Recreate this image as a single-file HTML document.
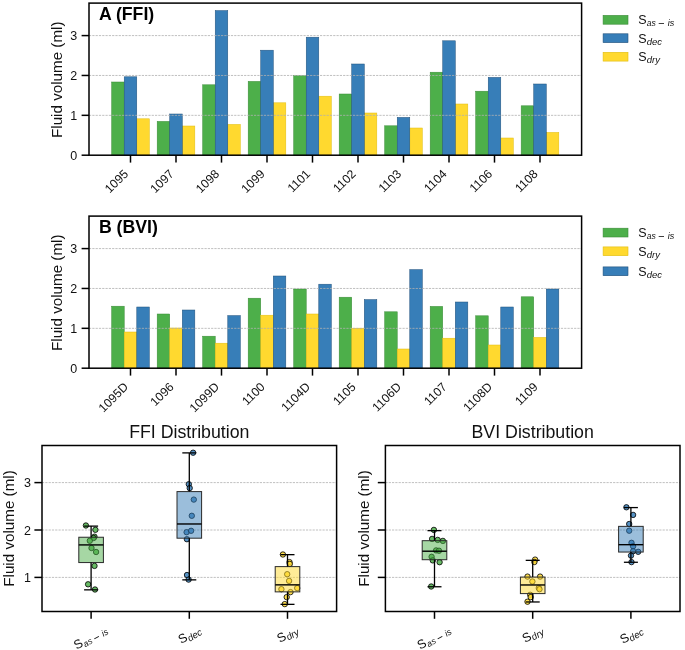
<!DOCTYPE html>
<html><head><meta charset="utf-8"><style>
html,body{margin:0;padding:0;background:#fff;}
body{width:685px;height:650px;overflow:hidden;}
svg{display:block;font-family:"Liberation Sans", sans-serif;will-change:transform;}
</style></head><body>
<svg width="685" height="650" viewBox="0 0 685 650">
<rect width="685" height="650" fill="#fff"/>
<rect x="111.67" y="82.00" width="12.55" height="73.20" fill="#4daf4a" stroke="#3a8a37" stroke-width="0.5"/>
<rect x="157.18" y="121.40" width="12.55" height="33.80" fill="#4daf4a" stroke="#3a8a37" stroke-width="0.5"/>
<rect x="202.68" y="84.80" width="12.55" height="70.40" fill="#4daf4a" stroke="#3a8a37" stroke-width="0.5"/>
<rect x="248.18" y="81.40" width="12.55" height="73.80" fill="#4daf4a" stroke="#3a8a37" stroke-width="0.5"/>
<rect x="293.68" y="75.60" width="12.55" height="79.60" fill="#4daf4a" stroke="#3a8a37" stroke-width="0.5"/>
<rect x="339.18" y="94.00" width="12.55" height="61.20" fill="#4daf4a" stroke="#3a8a37" stroke-width="0.5"/>
<rect x="384.68" y="125.80" width="12.55" height="29.40" fill="#4daf4a" stroke="#3a8a37" stroke-width="0.5"/>
<rect x="430.18" y="72.20" width="12.55" height="83.00" fill="#4daf4a" stroke="#3a8a37" stroke-width="0.5"/>
<rect x="475.68" y="91.20" width="12.55" height="64.00" fill="#4daf4a" stroke="#3a8a37" stroke-width="0.5"/>
<rect x="521.17" y="105.80" width="12.55" height="49.40" fill="#4daf4a" stroke="#3a8a37" stroke-width="0.5"/>
<rect x="136.78" y="118.80" width="12.55" height="36.40" fill="#ffd92f" stroke="#e0bd10" stroke-width="0.5"/>
<rect x="182.28" y="126.00" width="12.55" height="29.20" fill="#ffd92f" stroke="#e0bd10" stroke-width="0.5"/>
<rect x="227.78" y="124.40" width="12.55" height="30.80" fill="#ffd92f" stroke="#e0bd10" stroke-width="0.5"/>
<rect x="273.27" y="102.80" width="12.55" height="52.40" fill="#ffd92f" stroke="#e0bd10" stroke-width="0.5"/>
<rect x="318.77" y="96.20" width="12.55" height="59.00" fill="#ffd92f" stroke="#e0bd10" stroke-width="0.5"/>
<rect x="364.27" y="113.00" width="12.55" height="42.20" fill="#ffd92f" stroke="#e0bd10" stroke-width="0.5"/>
<rect x="409.77" y="128.00" width="12.55" height="27.20" fill="#ffd92f" stroke="#e0bd10" stroke-width="0.5"/>
<rect x="455.27" y="104.00" width="12.55" height="51.20" fill="#ffd92f" stroke="#e0bd10" stroke-width="0.5"/>
<rect x="500.77" y="138.00" width="12.55" height="17.20" fill="#ffd92f" stroke="#e0bd10" stroke-width="0.5"/>
<rect x="546.27" y="132.40" width="12.55" height="22.80" fill="#ffd92f" stroke="#e0bd10" stroke-width="0.5"/>
<rect x="124.22" y="76.80" width="12.55" height="78.40" fill="#377eb8" stroke="#1f4f7a" stroke-width="0.5"/>
<rect x="169.72" y="114.00" width="12.55" height="41.20" fill="#377eb8" stroke="#1f4f7a" stroke-width="0.5"/>
<rect x="215.22" y="10.60" width="12.55" height="144.60" fill="#377eb8" stroke="#1f4f7a" stroke-width="0.5"/>
<rect x="260.73" y="50.20" width="12.55" height="105.00" fill="#377eb8" stroke="#1f4f7a" stroke-width="0.5"/>
<rect x="306.23" y="37.20" width="12.55" height="118.00" fill="#377eb8" stroke="#1f4f7a" stroke-width="0.5"/>
<rect x="351.73" y="64.00" width="12.55" height="91.20" fill="#377eb8" stroke="#1f4f7a" stroke-width="0.5"/>
<rect x="397.23" y="117.40" width="12.55" height="37.80" fill="#377eb8" stroke="#1f4f7a" stroke-width="0.5"/>
<rect x="442.73" y="40.80" width="12.55" height="114.40" fill="#377eb8" stroke="#1f4f7a" stroke-width="0.5"/>
<rect x="488.23" y="77.40" width="12.55" height="77.80" fill="#377eb8" stroke="#1f4f7a" stroke-width="0.5"/>
<rect x="533.73" y="84.00" width="12.55" height="71.20" fill="#377eb8" stroke="#1f4f7a" stroke-width="0.5"/>
<line x1="89" x2="581.6" y1="115.33" y2="115.33" stroke="#b0b0b0" stroke-width="0.8" stroke-dasharray="2.2 1.1"/>
<line x1="89" x2="581.6" y1="75.46" y2="75.46" stroke="#b0b0b0" stroke-width="0.8" stroke-dasharray="2.2 1.1"/>
<line x1="89" x2="581.6" y1="35.59" y2="35.59" stroke="#b0b0b0" stroke-width="0.8" stroke-dasharray="2.2 1.1"/>
<rect x="89" y="3.1" width="492.60" height="152.10" fill="none" stroke="#000" stroke-width="1.5"/>
<line x1="81.6" x2="89" y1="155.20" y2="155.20" stroke="#000" stroke-width="1.5"/>
<text x="77.3" y="159.90" text-anchor="end" font-size="12.5" fill="#111">0</text>
<line x1="81.6" x2="89" y1="115.33" y2="115.33" stroke="#000" stroke-width="1.5"/>
<text x="77.3" y="120.03" text-anchor="end" font-size="12.5" fill="#111">1</text>
<line x1="81.6" x2="89" y1="75.46" y2="75.46" stroke="#000" stroke-width="1.5"/>
<text x="77.3" y="80.16" text-anchor="end" font-size="12.5" fill="#111">2</text>
<line x1="81.6" x2="89" y1="35.59" y2="35.59" stroke="#000" stroke-width="1.5"/>
<text x="77.3" y="40.29" text-anchor="end" font-size="12.5" fill="#111">3</text>
<line x1="130.50" x2="130.50" y1="155.2" y2="162.60" stroke="#000" stroke-width="1.5"/>
<text transform="translate(128.99,174.58) rotate(-45)" text-anchor="end" font-size="12.2" fill="#111">1095</text>
<line x1="176.00" x2="176.00" y1="155.2" y2="162.60" stroke="#000" stroke-width="1.5"/>
<text transform="translate(174.49,174.58) rotate(-45)" text-anchor="end" font-size="12.2" fill="#111">1097</text>
<line x1="221.50" x2="221.50" y1="155.2" y2="162.60" stroke="#000" stroke-width="1.5"/>
<text transform="translate(219.99,174.58) rotate(-45)" text-anchor="end" font-size="12.2" fill="#111">1098</text>
<line x1="267.00" x2="267.00" y1="155.2" y2="162.60" stroke="#000" stroke-width="1.5"/>
<text transform="translate(265.49,174.58) rotate(-45)" text-anchor="end" font-size="12.2" fill="#111">1099</text>
<line x1="312.50" x2="312.50" y1="155.2" y2="162.60" stroke="#000" stroke-width="1.5"/>
<text transform="translate(310.99,174.58) rotate(-45)" text-anchor="end" font-size="12.2" fill="#111">1101</text>
<line x1="358.00" x2="358.00" y1="155.2" y2="162.60" stroke="#000" stroke-width="1.5"/>
<text transform="translate(356.49,174.58) rotate(-45)" text-anchor="end" font-size="12.2" fill="#111">1102</text>
<line x1="403.50" x2="403.50" y1="155.2" y2="162.60" stroke="#000" stroke-width="1.5"/>
<text transform="translate(401.99,174.58) rotate(-45)" text-anchor="end" font-size="12.2" fill="#111">1103</text>
<line x1="449.00" x2="449.00" y1="155.2" y2="162.60" stroke="#000" stroke-width="1.5"/>
<text transform="translate(447.49,174.58) rotate(-45)" text-anchor="end" font-size="12.2" fill="#111">1104</text>
<line x1="494.50" x2="494.50" y1="155.2" y2="162.60" stroke="#000" stroke-width="1.5"/>
<text transform="translate(492.99,174.58) rotate(-45)" text-anchor="end" font-size="12.2" fill="#111">1106</text>
<line x1="540.00" x2="540.00" y1="155.2" y2="162.60" stroke="#000" stroke-width="1.5"/>
<text transform="translate(538.49,174.58) rotate(-45)" text-anchor="end" font-size="12.2" fill="#111">1108</text>
<text transform="translate(61.7,79.75) rotate(-90)" text-anchor="middle" font-size="15.2" fill="#111">Fluid volume (ml)</text>
<text x="98.89999999999999" y="19.6" font-size="17.7" font-weight="bold" fill="#000">A (FFI)</text>
<rect x="603.1" y="15.40" width="24.9" height="8.8" fill="#4daf4a" stroke="#3a8a37" stroke-width="0.6"/>
<g transform="translate(638.2,24.20)"><text x="0" y="0" font-size="12.5" fill="#111">S</text><text x="8.6" y="2.1" font-size="8.6" font-style="italic" fill="#111">as</text><rect x="20.5" y="-1.0" width="5.3" height="0.8" fill="#111"/><text x="29.5" y="2.1" font-size="9.0" font-style="italic" fill="#111">is</text></g>
<rect x="603.1" y="33.80" width="24.9" height="8.8" fill="#377eb8" stroke="#1f4f7a" stroke-width="0.6"/>
<g transform="translate(638.2,42.60)"><text x="0" y="0" font-size="12.5" fill="#111">S</text><text x="8.5" y="2.1" font-size="9.5" font-style="italic" fill="#111">dec</text></g>
<rect x="603.1" y="52.30" width="24.9" height="8.8" fill="#ffd92f" stroke="#e0bd10" stroke-width="0.6"/>
<g transform="translate(638.2,61.10)"><text x="0" y="0" font-size="12.5" fill="#111">S</text><text x="8.5" y="2.1" font-size="9.5" font-style="italic" fill="#111">dry</text></g>
<rect x="111.67" y="306.20" width="12.55" height="62.00" fill="#4daf4a" stroke="#3a8a37" stroke-width="0.5"/>
<rect x="157.18" y="314.00" width="12.55" height="54.20" fill="#4daf4a" stroke="#3a8a37" stroke-width="0.5"/>
<rect x="202.68" y="336.20" width="12.55" height="32.00" fill="#4daf4a" stroke="#3a8a37" stroke-width="0.5"/>
<rect x="248.18" y="298.20" width="12.55" height="70.00" fill="#4daf4a" stroke="#3a8a37" stroke-width="0.5"/>
<rect x="293.68" y="289.00" width="12.55" height="79.20" fill="#4daf4a" stroke="#3a8a37" stroke-width="0.5"/>
<rect x="339.18" y="297.20" width="12.55" height="71.00" fill="#4daf4a" stroke="#3a8a37" stroke-width="0.5"/>
<rect x="384.68" y="311.80" width="12.55" height="56.40" fill="#4daf4a" stroke="#3a8a37" stroke-width="0.5"/>
<rect x="430.18" y="306.40" width="12.55" height="61.80" fill="#4daf4a" stroke="#3a8a37" stroke-width="0.5"/>
<rect x="475.68" y="315.80" width="12.55" height="52.40" fill="#4daf4a" stroke="#3a8a37" stroke-width="0.5"/>
<rect x="521.17" y="296.80" width="12.55" height="71.40" fill="#4daf4a" stroke="#3a8a37" stroke-width="0.5"/>
<rect x="124.22" y="332.00" width="12.55" height="36.20" fill="#ffd92f" stroke="#e0bd10" stroke-width="0.5"/>
<rect x="169.72" y="328.00" width="12.55" height="40.20" fill="#ffd92f" stroke="#e0bd10" stroke-width="0.5"/>
<rect x="215.22" y="343.20" width="12.55" height="25.00" fill="#ffd92f" stroke="#e0bd10" stroke-width="0.5"/>
<rect x="260.73" y="315.20" width="12.55" height="53.00" fill="#ffd92f" stroke="#e0bd10" stroke-width="0.5"/>
<rect x="306.23" y="314.00" width="12.55" height="54.20" fill="#ffd92f" stroke="#e0bd10" stroke-width="0.5"/>
<rect x="351.73" y="328.20" width="12.55" height="40.00" fill="#ffd92f" stroke="#e0bd10" stroke-width="0.5"/>
<rect x="397.23" y="349.00" width="12.55" height="19.20" fill="#ffd92f" stroke="#e0bd10" stroke-width="0.5"/>
<rect x="442.73" y="338.20" width="12.55" height="30.00" fill="#ffd92f" stroke="#e0bd10" stroke-width="0.5"/>
<rect x="488.23" y="345.00" width="12.55" height="23.20" fill="#ffd92f" stroke="#e0bd10" stroke-width="0.5"/>
<rect x="533.73" y="337.40" width="12.55" height="30.80" fill="#ffd92f" stroke="#e0bd10" stroke-width="0.5"/>
<rect x="136.78" y="307.00" width="12.55" height="61.20" fill="#377eb8" stroke="#1f4f7a" stroke-width="0.5"/>
<rect x="182.28" y="310.00" width="12.55" height="58.20" fill="#377eb8" stroke="#1f4f7a" stroke-width="0.5"/>
<rect x="227.78" y="315.60" width="12.55" height="52.60" fill="#377eb8" stroke="#1f4f7a" stroke-width="0.5"/>
<rect x="273.27" y="276.00" width="12.55" height="92.20" fill="#377eb8" stroke="#1f4f7a" stroke-width="0.5"/>
<rect x="318.77" y="284.20" width="12.55" height="84.00" fill="#377eb8" stroke="#1f4f7a" stroke-width="0.5"/>
<rect x="364.27" y="299.60" width="12.55" height="68.60" fill="#377eb8" stroke="#1f4f7a" stroke-width="0.5"/>
<rect x="409.77" y="269.60" width="12.55" height="98.60" fill="#377eb8" stroke="#1f4f7a" stroke-width="0.5"/>
<rect x="455.27" y="302.00" width="12.55" height="66.20" fill="#377eb8" stroke="#1f4f7a" stroke-width="0.5"/>
<rect x="500.77" y="307.00" width="12.55" height="61.20" fill="#377eb8" stroke="#1f4f7a" stroke-width="0.5"/>
<rect x="546.27" y="289.00" width="12.55" height="79.20" fill="#377eb8" stroke="#1f4f7a" stroke-width="0.5"/>
<line x1="89" x2="581.6" y1="328.33" y2="328.33" stroke="#b0b0b0" stroke-width="0.8" stroke-dasharray="2.2 1.1"/>
<line x1="89" x2="581.6" y1="288.46" y2="288.46" stroke="#b0b0b0" stroke-width="0.8" stroke-dasharray="2.2 1.1"/>
<line x1="89" x2="581.6" y1="248.59" y2="248.59" stroke="#b0b0b0" stroke-width="0.8" stroke-dasharray="2.2 1.1"/>
<rect x="89" y="216.1" width="492.60" height="152.10" fill="none" stroke="#000" stroke-width="1.5"/>
<line x1="81.6" x2="89" y1="368.20" y2="368.20" stroke="#000" stroke-width="1.5"/>
<text x="77.3" y="372.90" text-anchor="end" font-size="12.5" fill="#111">0</text>
<line x1="81.6" x2="89" y1="328.33" y2="328.33" stroke="#000" stroke-width="1.5"/>
<text x="77.3" y="333.03" text-anchor="end" font-size="12.5" fill="#111">1</text>
<line x1="81.6" x2="89" y1="288.46" y2="288.46" stroke="#000" stroke-width="1.5"/>
<text x="77.3" y="293.16" text-anchor="end" font-size="12.5" fill="#111">2</text>
<line x1="81.6" x2="89" y1="248.59" y2="248.59" stroke="#000" stroke-width="1.5"/>
<text x="77.3" y="253.29" text-anchor="end" font-size="12.5" fill="#111">3</text>
<line x1="130.50" x2="130.50" y1="368.2" y2="375.60" stroke="#000" stroke-width="1.5"/>
<text transform="translate(128.99,387.58) rotate(-45)" text-anchor="end" font-size="12.2" fill="#111">1095D</text>
<line x1="176.00" x2="176.00" y1="368.2" y2="375.60" stroke="#000" stroke-width="1.5"/>
<text transform="translate(174.49,387.58) rotate(-45)" text-anchor="end" font-size="12.2" fill="#111">1096</text>
<line x1="221.50" x2="221.50" y1="368.2" y2="375.60" stroke="#000" stroke-width="1.5"/>
<text transform="translate(219.99,387.58) rotate(-45)" text-anchor="end" font-size="12.2" fill="#111">1099D</text>
<line x1="267.00" x2="267.00" y1="368.2" y2="375.60" stroke="#000" stroke-width="1.5"/>
<text transform="translate(265.49,387.58) rotate(-45)" text-anchor="end" font-size="12.2" fill="#111">1100</text>
<line x1="312.50" x2="312.50" y1="368.2" y2="375.60" stroke="#000" stroke-width="1.5"/>
<text transform="translate(310.99,387.58) rotate(-45)" text-anchor="end" font-size="12.2" fill="#111">1104D</text>
<line x1="358.00" x2="358.00" y1="368.2" y2="375.60" stroke="#000" stroke-width="1.5"/>
<text transform="translate(356.49,387.58) rotate(-45)" text-anchor="end" font-size="12.2" fill="#111">1105</text>
<line x1="403.50" x2="403.50" y1="368.2" y2="375.60" stroke="#000" stroke-width="1.5"/>
<text transform="translate(401.99,387.58) rotate(-45)" text-anchor="end" font-size="12.2" fill="#111">1106D</text>
<line x1="449.00" x2="449.00" y1="368.2" y2="375.60" stroke="#000" stroke-width="1.5"/>
<text transform="translate(447.49,387.58) rotate(-45)" text-anchor="end" font-size="12.2" fill="#111">1107</text>
<line x1="494.50" x2="494.50" y1="368.2" y2="375.60" stroke="#000" stroke-width="1.5"/>
<text transform="translate(492.99,387.58) rotate(-45)" text-anchor="end" font-size="12.2" fill="#111">1108D</text>
<line x1="540.00" x2="540.00" y1="368.2" y2="375.60" stroke="#000" stroke-width="1.5"/>
<text transform="translate(538.49,387.58) rotate(-45)" text-anchor="end" font-size="12.2" fill="#111">1109</text>
<text transform="translate(61.7,292.75) rotate(-90)" text-anchor="middle" font-size="15.2" fill="#111">Fluid volume (ml)</text>
<text x="98.89999999999999" y="232.6" font-size="17.7" font-weight="bold" fill="#000">B (BVI)</text>
<rect x="603.1" y="228.20" width="24.9" height="8.8" fill="#4daf4a" stroke="#3a8a37" stroke-width="0.6"/>
<g transform="translate(638.2,237.00)"><text x="0" y="0" font-size="12.5" fill="#111">S</text><text x="8.6" y="2.1" font-size="8.6" font-style="italic" fill="#111">as</text><rect x="20.5" y="-1.0" width="5.3" height="0.8" fill="#111"/><text x="29.5" y="2.1" font-size="9.0" font-style="italic" fill="#111">is</text></g>
<rect x="603.1" y="246.90" width="24.9" height="8.8" fill="#ffd92f" stroke="#e0bd10" stroke-width="0.6"/>
<g transform="translate(638.2,255.70)"><text x="0" y="0" font-size="12.5" fill="#111">S</text><text x="8.5" y="2.1" font-size="9.5" font-style="italic" fill="#111">dry</text></g>
<rect x="603.1" y="266.90" width="24.9" height="8.8" fill="#377eb8" stroke="#1f4f7a" stroke-width="0.6"/>
<g transform="translate(638.2,275.70)"><text x="0" y="0" font-size="12.5" fill="#111">S</text><text x="8.5" y="2.1" font-size="9.5" font-style="italic" fill="#111">dec</text></g>
<line x1="42" x2="336.60" y1="577.40" y2="577.40" stroke="#b0b0b0" stroke-width="0.8" stroke-dasharray="2.2 1.1"/>
<line x1="42" x2="336.60" y1="530.00" y2="530.00" stroke="#b0b0b0" stroke-width="0.8" stroke-dasharray="2.2 1.1"/>
<line x1="42" x2="336.60" y1="482.60" y2="482.60" stroke="#b0b0b0" stroke-width="0.8" stroke-dasharray="2.2 1.1"/>
<circle cx="85.90" cy="525.50" r="2.7" fill="#4daf4a" fill-opacity="0.85" stroke="#000" stroke-opacity="0.9" stroke-width="0.9"/>
<circle cx="95.40" cy="529.80" r="2.7" fill="#4daf4a" fill-opacity="0.85" stroke="#000" stroke-opacity="0.9" stroke-width="0.9"/>
<circle cx="94.50" cy="536.70" r="2.7" fill="#4daf4a" fill-opacity="0.85" stroke="#000" stroke-opacity="0.9" stroke-width="0.9"/>
<circle cx="93.60" cy="538.00" r="2.7" fill="#4daf4a" fill-opacity="0.85" stroke="#000" stroke-opacity="0.9" stroke-width="0.9"/>
<circle cx="89.80" cy="540.80" r="2.7" fill="#4daf4a" fill-opacity="0.85" stroke="#000" stroke-opacity="0.9" stroke-width="0.9"/>
<circle cx="91.50" cy="548.00" r="2.7" fill="#4daf4a" fill-opacity="0.85" stroke="#000" stroke-opacity="0.9" stroke-width="0.9"/>
<circle cx="96.10" cy="552.00" r="2.7" fill="#4daf4a" fill-opacity="0.85" stroke="#000" stroke-opacity="0.9" stroke-width="0.9"/>
<circle cx="94.50" cy="565.90" r="2.7" fill="#4daf4a" fill-opacity="0.85" stroke="#000" stroke-opacity="0.9" stroke-width="0.9"/>
<circle cx="88.10" cy="584.30" r="2.7" fill="#4daf4a" fill-opacity="0.85" stroke="#000" stroke-opacity="0.9" stroke-width="0.9"/>
<circle cx="95.00" cy="589.50" r="2.7" fill="#4daf4a" fill-opacity="0.85" stroke="#000" stroke-opacity="0.9" stroke-width="0.9"/>
<rect x="78.80" y="537.24" width="24.60" height="25.32" fill="#4daf4a" fill-opacity="0.5" stroke="#2a2a2a" stroke-width="1.0"/>
<line x1="91.10" x2="91.10" y1="526.12" y2="537.24" stroke="#000" stroke-width="1.3"/>
<line x1="91.10" x2="91.10" y1="562.56" y2="589.85" stroke="#000" stroke-width="1.3"/>
<line x1="84.10" x2="98.10" y1="526.12" y2="526.12" stroke="#000" stroke-width="1.3"/>
<line x1="84.10" x2="98.10" y1="589.85" y2="589.85" stroke="#000" stroke-width="1.3"/>
<line x1="78.80" x2="103.40" y1="544.91" y2="544.91" stroke="#000" stroke-width="1.4"/>
<line x1="91.10" x2="91.10" y1="611.5" y2="618.80" stroke="#000" stroke-width="1.5"/>
<g transform="translate(76.85,649.71) rotate(-30)"><text x="0" y="0" font-size="12.5" fill="#111">S</text><text x="8.6" y="2.1" font-size="8.6" font-style="italic" fill="#111">as</text><rect x="20.5" y="-1.0" width="5.3" height="0.8" fill="#111"/><text x="29.5" y="2.1" font-size="9.0" font-style="italic" fill="#111">is</text></g>
<circle cx="193.10" cy="452.70" r="2.7" fill="#377eb8" fill-opacity="0.85" stroke="#000" stroke-opacity="0.9" stroke-width="0.9"/>
<circle cx="188.80" cy="484.20" r="2.7" fill="#377eb8" fill-opacity="0.85" stroke="#000" stroke-opacity="0.9" stroke-width="0.9"/>
<circle cx="189.70" cy="488.10" r="2.7" fill="#377eb8" fill-opacity="0.85" stroke="#000" stroke-opacity="0.9" stroke-width="0.9"/>
<circle cx="193.80" cy="499.60" r="2.7" fill="#377eb8" fill-opacity="0.85" stroke="#000" stroke-opacity="0.9" stroke-width="0.9"/>
<circle cx="191.80" cy="515.80" r="2.7" fill="#377eb8" fill-opacity="0.85" stroke="#000" stroke-opacity="0.9" stroke-width="0.9"/>
<circle cx="186.60" cy="532.20" r="2.7" fill="#377eb8" fill-opacity="0.85" stroke="#000" stroke-opacity="0.9" stroke-width="0.9"/>
<circle cx="191.10" cy="530.80" r="2.7" fill="#377eb8" fill-opacity="0.85" stroke="#000" stroke-opacity="0.9" stroke-width="0.9"/>
<circle cx="186.90" cy="539.20" r="2.7" fill="#377eb8" fill-opacity="0.85" stroke="#000" stroke-opacity="0.9" stroke-width="0.9"/>
<circle cx="187.00" cy="575.00" r="2.7" fill="#377eb8" fill-opacity="0.85" stroke="#000" stroke-opacity="0.9" stroke-width="0.9"/>
<circle cx="188.60" cy="579.60" r="2.7" fill="#377eb8" fill-opacity="0.85" stroke="#000" stroke-opacity="0.9" stroke-width="0.9"/>
<rect x="177.00" y="491.59" width="24.60" height="46.60" fill="#377eb8" fill-opacity="0.5" stroke="#2a2a2a" stroke-width="1.0"/>
<line x1="189.30" x2="189.30" y1="452.89" y2="491.59" stroke="#000" stroke-width="1.3"/>
<line x1="189.30" x2="189.30" y1="538.19" y2="579.86" stroke="#000" stroke-width="1.3"/>
<line x1="182.30" x2="196.30" y1="452.89" y2="452.89" stroke="#000" stroke-width="1.3"/>
<line x1="182.30" x2="196.30" y1="579.86" y2="579.86" stroke="#000" stroke-width="1.3"/>
<line x1="177.00" x2="201.60" y1="523.98" y2="523.98" stroke="#000" stroke-width="1.4"/>
<line x1="189.30" x2="189.30" y1="611.5" y2="618.80" stroke="#000" stroke-width="1.5"/>
<g transform="translate(181.30,644.09) rotate(-30)"><text x="0" y="0" font-size="12.5" fill="#111">S</text><text x="8.5" y="2.1" font-size="9.5" font-style="italic" fill="#111">dec</text></g>
<circle cx="282.90" cy="554.50" r="2.7" fill="#ffd92f" fill-opacity="0.85" stroke="#000" stroke-opacity="0.9" stroke-width="0.9"/>
<circle cx="289.50" cy="562.10" r="2.7" fill="#ffd92f" fill-opacity="0.85" stroke="#000" stroke-opacity="0.9" stroke-width="0.9"/>
<circle cx="289.80" cy="563.90" r="2.7" fill="#ffd92f" fill-opacity="0.85" stroke="#000" stroke-opacity="0.9" stroke-width="0.9"/>
<circle cx="287.20" cy="574.20" r="2.7" fill="#ffd92f" fill-opacity="0.85" stroke="#000" stroke-opacity="0.9" stroke-width="0.9"/>
<circle cx="289.10" cy="580.90" r="2.7" fill="#ffd92f" fill-opacity="0.85" stroke="#000" stroke-opacity="0.9" stroke-width="0.9"/>
<circle cx="281.40" cy="589.20" r="2.7" fill="#ffd92f" fill-opacity="0.85" stroke="#000" stroke-opacity="0.9" stroke-width="0.9"/>
<circle cx="297.20" cy="588.10" r="2.7" fill="#ffd92f" fill-opacity="0.85" stroke="#000" stroke-opacity="0.9" stroke-width="0.9"/>
<circle cx="290.50" cy="592.10" r="2.7" fill="#ffd92f" fill-opacity="0.85" stroke="#000" stroke-opacity="0.9" stroke-width="0.9"/>
<circle cx="286.70" cy="597.10" r="2.7" fill="#ffd92f" fill-opacity="0.85" stroke="#000" stroke-opacity="0.9" stroke-width="0.9"/>
<circle cx="284.80" cy="604.10" r="2.7" fill="#ffd92f" fill-opacity="0.85" stroke="#000" stroke-opacity="0.9" stroke-width="0.9"/>
<rect x="275.20" y="566.61" width="24.60" height="25.26" fill="#ffd92f" fill-opacity="0.5" stroke="#2a2a2a" stroke-width="1.0"/>
<line x1="287.50" x2="287.50" y1="554.66" y2="566.61" stroke="#000" stroke-width="1.3"/>
<line x1="287.50" x2="287.50" y1="591.87" y2="604.35" stroke="#000" stroke-width="1.3"/>
<line x1="280.50" x2="294.50" y1="554.66" y2="554.66" stroke="#000" stroke-width="1.3"/>
<line x1="280.50" x2="294.50" y1="604.35" y2="604.35" stroke="#000" stroke-width="1.3"/>
<line x1="275.20" x2="299.80" y1="584.85" y2="584.85" stroke="#000" stroke-width="1.4"/>
<line x1="287.50" x2="287.50" y1="611.5" y2="618.80" stroke="#000" stroke-width="1.5"/>
<g transform="translate(279.99,643.03) rotate(-30)"><text x="0" y="0" font-size="12.5" fill="#111">S</text><text x="8.5" y="2.1" font-size="9.5" font-style="italic" fill="#111">dry</text></g>
<rect x="42" y="445.5" width="294.60" height="166.00" fill="none" stroke="#000" stroke-width="1.5"/>
<line x1="34.40" x2="42" y1="577.40" y2="577.40" stroke="#000" stroke-width="1.5"/>
<text x="30.90" y="582.10" text-anchor="end" font-size="12.5" fill="#111">1</text>
<line x1="34.40" x2="42" y1="530.00" y2="530.00" stroke="#000" stroke-width="1.5"/>
<text x="30.90" y="534.70" text-anchor="end" font-size="12.5" fill="#111">2</text>
<line x1="34.40" x2="42" y1="482.60" y2="482.60" stroke="#000" stroke-width="1.5"/>
<text x="30.90" y="487.30" text-anchor="end" font-size="12.5" fill="#111">3</text>
<text transform="translate(14.4,528.50) rotate(-90)" text-anchor="middle" font-size="15.2" fill="#111">Fluid volume (ml)</text>
<text x="189.30" y="438" text-anchor="middle" font-size="17.75" fill="#111">FFI Distribution</text>
<line x1="385.4" x2="680.00" y1="577.40" y2="577.40" stroke="#b0b0b0" stroke-width="0.8" stroke-dasharray="2.2 1.1"/>
<line x1="385.4" x2="680.00" y1="530.00" y2="530.00" stroke="#b0b0b0" stroke-width="0.8" stroke-dasharray="2.2 1.1"/>
<line x1="385.4" x2="680.00" y1="482.60" y2="482.60" stroke="#b0b0b0" stroke-width="0.8" stroke-dasharray="2.2 1.1"/>
<circle cx="433.90" cy="529.90" r="2.7" fill="#4daf4a" fill-opacity="0.85" stroke="#000" stroke-opacity="0.9" stroke-width="0.9"/>
<circle cx="432.10" cy="538.90" r="2.7" fill="#4daf4a" fill-opacity="0.85" stroke="#000" stroke-opacity="0.9" stroke-width="0.9"/>
<circle cx="437.70" cy="539.90" r="2.7" fill="#4daf4a" fill-opacity="0.85" stroke="#000" stroke-opacity="0.9" stroke-width="0.9"/>
<circle cx="442.90" cy="540.90" r="2.7" fill="#4daf4a" fill-opacity="0.85" stroke="#000" stroke-opacity="0.9" stroke-width="0.9"/>
<circle cx="436.10" cy="550.40" r="2.7" fill="#4daf4a" fill-opacity="0.85" stroke="#000" stroke-opacity="0.9" stroke-width="0.9"/>
<circle cx="439.00" cy="550.70" r="2.7" fill="#4daf4a" fill-opacity="0.85" stroke="#000" stroke-opacity="0.9" stroke-width="0.9"/>
<circle cx="431.60" cy="556.80" r="2.7" fill="#4daf4a" fill-opacity="0.85" stroke="#000" stroke-opacity="0.9" stroke-width="0.9"/>
<circle cx="432.80" cy="560.40" r="2.7" fill="#4daf4a" fill-opacity="0.85" stroke="#000" stroke-opacity="0.9" stroke-width="0.9"/>
<circle cx="439.60" cy="562.20" r="2.7" fill="#4daf4a" fill-opacity="0.85" stroke="#000" stroke-opacity="0.9" stroke-width="0.9"/>
<circle cx="431.20" cy="586.50" r="2.7" fill="#4daf4a" fill-opacity="0.85" stroke="#000" stroke-opacity="0.9" stroke-width="0.9"/>
<rect x="422.20" y="540.69" width="24.60" height="19.02" fill="#4daf4a" fill-opacity="0.5" stroke="#2a2a2a" stroke-width="1.0"/>
<line x1="434.50" x2="434.50" y1="530.64" y2="540.69" stroke="#000" stroke-width="1.3"/>
<line x1="434.50" x2="434.50" y1="559.71" y2="586.76" stroke="#000" stroke-width="1.3"/>
<line x1="427.50" x2="441.50" y1="530.64" y2="530.64" stroke="#000" stroke-width="1.3"/>
<line x1="427.50" x2="441.50" y1="586.76" y2="586.76" stroke="#000" stroke-width="1.3"/>
<line x1="422.20" x2="446.80" y1="551.21" y2="551.21" stroke="#000" stroke-width="1.4"/>
<line x1="434.50" x2="434.50" y1="611.5" y2="618.80" stroke="#000" stroke-width="1.5"/>
<g transform="translate(420.25,649.71) rotate(-30)"><text x="0" y="0" font-size="12.5" fill="#111">S</text><text x="8.6" y="2.1" font-size="8.6" font-style="italic" fill="#111">as</text><rect x="20.5" y="-1.0" width="5.3" height="0.8" fill="#111"/><text x="29.5" y="2.1" font-size="9.0" font-style="italic" fill="#111">is</text></g>
<circle cx="535.10" cy="559.60" r="2.7" fill="#ffd92f" fill-opacity="0.85" stroke="#000" stroke-opacity="0.9" stroke-width="0.9"/>
<circle cx="534.40" cy="562.00" r="2.7" fill="#ffd92f" fill-opacity="0.85" stroke="#000" stroke-opacity="0.9" stroke-width="0.9"/>
<circle cx="527.50" cy="576.60" r="2.7" fill="#ffd92f" fill-opacity="0.85" stroke="#000" stroke-opacity="0.9" stroke-width="0.9"/>
<circle cx="540.10" cy="576.60" r="2.7" fill="#ffd92f" fill-opacity="0.85" stroke="#000" stroke-opacity="0.9" stroke-width="0.9"/>
<circle cx="532.40" cy="581.50" r="2.7" fill="#ffd92f" fill-opacity="0.85" stroke="#000" stroke-opacity="0.9" stroke-width="0.9"/>
<circle cx="538.80" cy="588.00" r="2.7" fill="#ffd92f" fill-opacity="0.85" stroke="#000" stroke-opacity="0.9" stroke-width="0.9"/>
<circle cx="539.50" cy="589.20" r="2.7" fill="#ffd92f" fill-opacity="0.85" stroke="#000" stroke-opacity="0.9" stroke-width="0.9"/>
<circle cx="530.20" cy="594.80" r="2.7" fill="#ffd92f" fill-opacity="0.85" stroke="#000" stroke-opacity="0.9" stroke-width="0.9"/>
<circle cx="530.70" cy="597.10" r="2.7" fill="#ffd92f" fill-opacity="0.85" stroke="#000" stroke-opacity="0.9" stroke-width="0.9"/>
<circle cx="527.50" cy="601.70" r="2.7" fill="#ffd92f" fill-opacity="0.85" stroke="#000" stroke-opacity="0.9" stroke-width="0.9"/>
<rect x="520.40" y="577.07" width="24.60" height="16.53" fill="#ffd92f" fill-opacity="0.5" stroke="#2a2a2a" stroke-width="1.0"/>
<line x1="532.70" x2="532.70" y1="560.36" y2="577.07" stroke="#000" stroke-width="1.3"/>
<line x1="532.70" x2="532.70" y1="593.59" y2="601.97" stroke="#000" stroke-width="1.3"/>
<line x1="525.70" x2="539.70" y1="560.36" y2="560.36" stroke="#000" stroke-width="1.3"/>
<line x1="525.70" x2="539.70" y1="601.97" y2="601.97" stroke="#000" stroke-width="1.3"/>
<line x1="520.40" x2="545.00" y1="584.97" y2="584.97" stroke="#000" stroke-width="1.4"/>
<line x1="532.70" x2="532.70" y1="611.5" y2="618.80" stroke="#000" stroke-width="1.5"/>
<g transform="translate(525.19,643.03) rotate(-30)"><text x="0" y="0" font-size="12.5" fill="#111">S</text><text x="8.5" y="2.1" font-size="9.5" font-style="italic" fill="#111">dry</text></g>
<circle cx="626.40" cy="507.30" r="2.7" fill="#377eb8" fill-opacity="0.85" stroke="#000" stroke-opacity="0.9" stroke-width="0.9"/>
<circle cx="633.10" cy="514.90" r="2.7" fill="#377eb8" fill-opacity="0.85" stroke="#000" stroke-opacity="0.9" stroke-width="0.9"/>
<circle cx="629.20" cy="524.00" r="2.7" fill="#377eb8" fill-opacity="0.85" stroke="#000" stroke-opacity="0.9" stroke-width="0.9"/>
<circle cx="629.20" cy="530.70" r="2.7" fill="#377eb8" fill-opacity="0.85" stroke="#000" stroke-opacity="0.9" stroke-width="0.9"/>
<circle cx="631.50" cy="542.80" r="2.7" fill="#377eb8" fill-opacity="0.85" stroke="#000" stroke-opacity="0.9" stroke-width="0.9"/>
<circle cx="633.10" cy="546.30" r="2.7" fill="#377eb8" fill-opacity="0.85" stroke="#000" stroke-opacity="0.9" stroke-width="0.9"/>
<circle cx="638.20" cy="551.80" r="2.7" fill="#377eb8" fill-opacity="0.85" stroke="#000" stroke-opacity="0.9" stroke-width="0.9"/>
<circle cx="633.10" cy="551.20" r="2.7" fill="#377eb8" fill-opacity="0.85" stroke="#000" stroke-opacity="0.9" stroke-width="0.9"/>
<circle cx="631.00" cy="555.60" r="2.7" fill="#377eb8" fill-opacity="0.85" stroke="#000" stroke-opacity="0.9" stroke-width="0.9"/>
<circle cx="631.50" cy="562.10" r="2.7" fill="#377eb8" fill-opacity="0.85" stroke="#000" stroke-opacity="0.9" stroke-width="0.9"/>
<rect x="618.60" y="526.36" width="24.60" height="25.68" fill="#377eb8" fill-opacity="0.5" stroke="#2a2a2a" stroke-width="1.0"/>
<line x1="630.90" x2="630.90" y1="507.58" y2="526.36" stroke="#000" stroke-width="1.3"/>
<line x1="630.90" x2="630.90" y1="552.04" y2="562.27" stroke="#000" stroke-width="1.3"/>
<line x1="623.90" x2="637.90" y1="507.58" y2="507.58" stroke="#000" stroke-width="1.3"/>
<line x1="623.90" x2="637.90" y1="562.27" y2="562.27" stroke="#000" stroke-width="1.3"/>
<line x1="618.60" x2="643.20" y1="544.67" y2="544.67" stroke="#000" stroke-width="1.4"/>
<line x1="630.90" x2="630.90" y1="611.5" y2="618.80" stroke="#000" stroke-width="1.5"/>
<g transform="translate(622.90,644.09) rotate(-30)"><text x="0" y="0" font-size="12.5" fill="#111">S</text><text x="8.5" y="2.1" font-size="9.5" font-style="italic" fill="#111">dec</text></g>
<rect x="385.4" y="445.5" width="294.60" height="166.00" fill="none" stroke="#000" stroke-width="1.5"/>
<line x1="377.80" x2="385.4" y1="577.40" y2="577.40" stroke="#000" stroke-width="1.5"/>
<line x1="377.80" x2="385.4" y1="530.00" y2="530.00" stroke="#000" stroke-width="1.5"/>
<line x1="377.80" x2="385.4" y1="482.60" y2="482.60" stroke="#000" stroke-width="1.5"/>
<text transform="translate(369.2,528.50) rotate(-90)" text-anchor="middle" font-size="15.2" fill="#111">Fluid volume (ml)</text>
<text x="532.70" y="438" text-anchor="middle" font-size="17.75" fill="#111">BVI Distribution</text>
</svg>
</body></html>
